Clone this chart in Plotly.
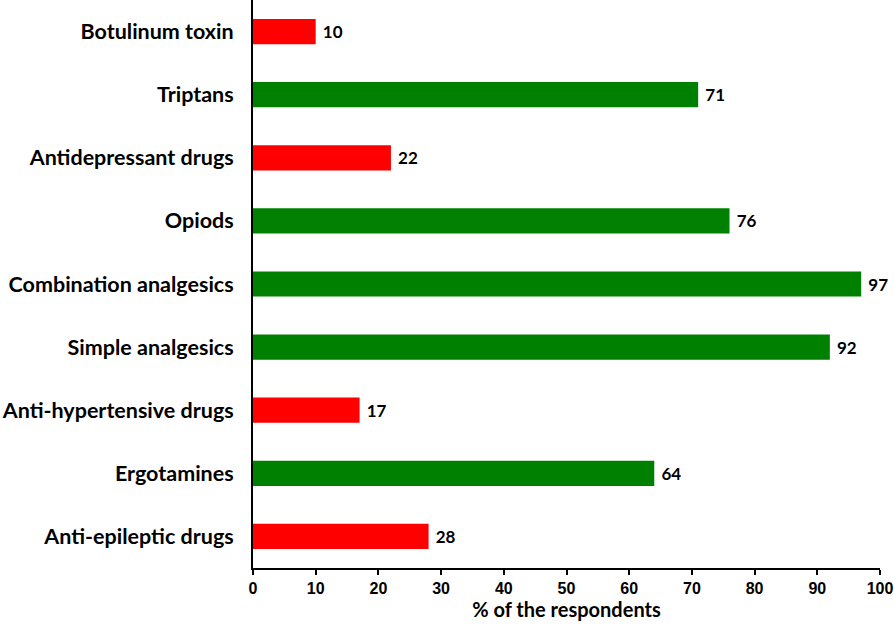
import plotly.graph_objects as go

categories = ["Botulinum toxin", "Triptans", "Antidepressant drugs", "Opiods",
              "Combination analgesics", "Simple analgesics", "Anti-hypertensive drugs",
              "Ergotamines", "Anti-epileptic drugs"]
values = [10, 71, 22, 76, 97, 92, 17, 64, 28]
colors = ["#FF0000", "#008000", "#FF0000", "#008000", "#008000", "#008000",
          "#FF0000", "#008000", "#FF0000"]
tick_vals = [0, 10, 20, 30, 40, 50, 60, 70, 80, 90, 100]

cat_font = "Lato, 'Open Sans', sans-serif"

fig = go.Figure(go.Bar(
    y=categories, x=values, orientation="h",
    marker=dict(color=colors, line=dict(width=0)),
    text=[str(v) for v in values], textposition="outside",
    texttemplate=" %{text}", constraintext="none",
    textfont=dict(family=cat_font, size=17, color="black", weight="bold"),
    cliponaxis=False, width=0.4,
))

fig.update_layout(
    width=894, height=627,
    margin=dict(l=253, r=14, t=0, b=59),
    plot_bgcolor="white", paper_bgcolor="white",
    showlegend=False,
    xaxis=dict(range=[0, 100], tickvals=tick_vals, showgrid=False, zeroline=False,
               showline=True, linecolor="black", linewidth=2,
               ticks="outside", ticklen=5, tickwidth=2, tickcolor="black",
               tickfont=dict(family="Liberation Sans, Arial", size=16, color="black", weight="bold"),
               title=dict(text="% of the respondents", standoff=1,
                          font=dict(family=cat_font, size=20, color="black", weight="bold"))),
    yaxis=dict(autorange="reversed", categoryorder="array", categoryarray=categories,
               showgrid=False, zeroline=False, showline=True, linecolor="black", linewidth=2,
               ticks="", ticklabelstandoff=13,
               tickfont=dict(family=cat_font, size=21.5, color="black", weight="bold")),
)

fig.write_html("out.html", config={"displayModeBar": False},
               post_script="document.body.style.margin='0';")
